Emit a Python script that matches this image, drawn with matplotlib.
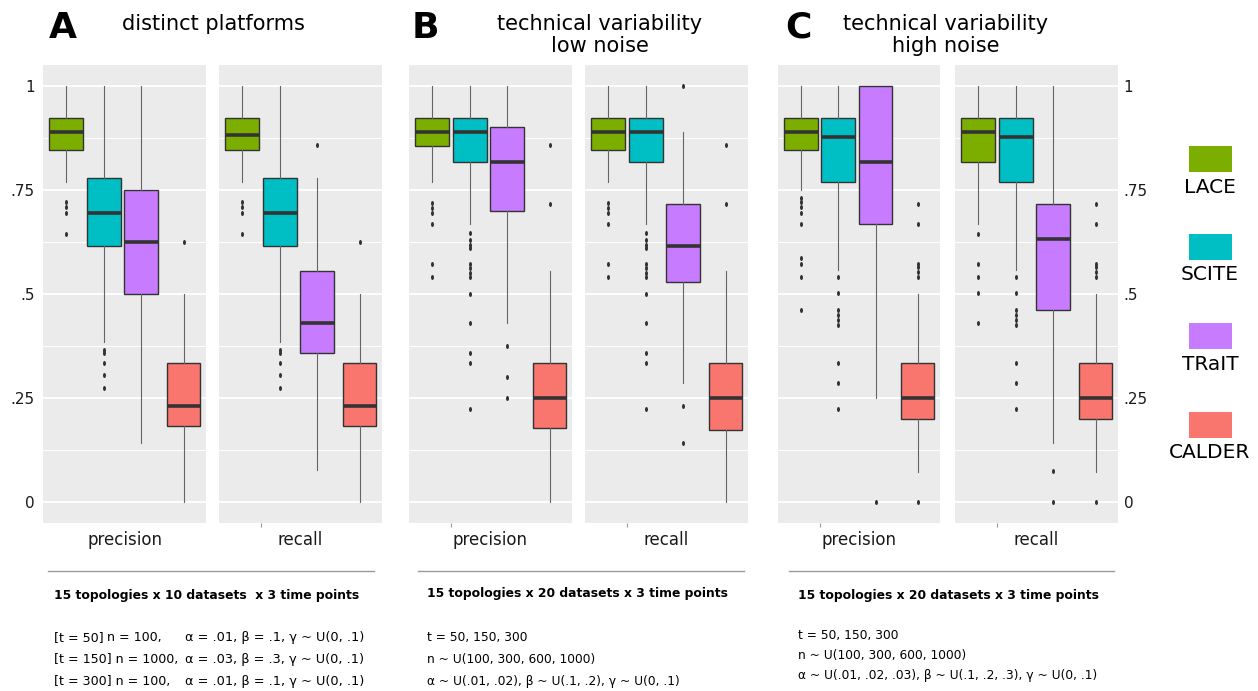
import matplotlib.pyplot as plt
from matplotlib.patches import Rectangle
from matplotlib.lines import Line2D
from matplotlib.path import Path
from matplotlib.transforms import Affine2D

plt.rcParams['font.family'] = ['DejaVu Sans']

methods = ['LACE', 'SCITE', 'TRaIT', 'CALDER']
colors = ['#7CAE00', '#00BFC4', '#C77CFF', '#F8766D']

# box stats per method: [whisker low, q1, median, q3, whisker high]
a_prec = [[0.770, 0.846, 0.890, 0.924, 1.0],
          [0.385, 0.615, 0.694, 0.778, 1.0],
          [0.142, 0.500, 0.625, 0.750, 1.0],
          [0.0, 0.182, 0.230, 0.333, 0.5]]
a_prec_out = [[0.720, 0.710, 0.694, 0.643],
              [0.365, 0.358, 0.333, 0.306, 0.273],
              [],
              [0.625]]
a_rec = [[0.770, 0.846, 0.882, 0.924, 1.0],
         [0.385, 0.615, 0.694, 0.778, 1.0],
         [0.076, 0.357, 0.429, 0.556, 0.778],
         [0.0, 0.182, 0.230, 0.333, 0.5]]
a_rec_out = [[0.720, 0.710, 0.694, 0.643],
             [0.365, 0.358, 0.333, 0.306, 0.273],
             [0.858],
             [0.625]]

b_prec = [[0.770, 0.856, 0.890, 0.924, 1.0],
          [0.667, 0.818, 0.890, 0.924, 1.0],
          [0.429, 0.700, 0.818, 0.901, 1.0],
          [0.0, 0.178, 0.249, 0.333, 0.555]]
b_prec_out = [[0.718, 0.706, 0.694, 0.667, 0.572, 0.540],
              [0.646, 0.630, 0.618, 0.610, 0.572, 0.561, 0.549, 0.540, 0.500, 0.429, 0.357, 0.333, 0.222],
              [0.375, 0.299, 0.249],
              [0.858, 0.715]]
b_rec = [[0.770, 0.846, 0.890, 0.924, 1.0],
         [0.667, 0.818, 0.890, 0.924, 1.0],
         [0.286, 0.529, 0.615, 0.715, 0.889],
         [0.0, 0.173, 0.249, 0.333, 0.555]]
b_rec_out = [[0.718, 0.706, 0.694, 0.667, 0.572, 0.540],
             [0.646, 0.630, 0.618, 0.610, 0.572, 0.561, 0.549, 0.540, 0.500, 0.429, 0.357, 0.333, 0.222],
             [1.0, 0.230, 0.142],
             [0.858, 0.715]]

c_prec = [[0.751, 0.846, 0.890, 0.924, 1.0],
          [0.557, 0.770, 0.877, 0.924, 1.0],
          [0.250, 0.667, 0.818, 1.0, 1.0],
          [0.071, 0.199, 0.250, 0.333, 0.5]]
c_prec_out = [[0.730, 0.722, 0.710, 0.694, 0.667, 0.586, 0.573, 0.540, 0.461],
              [0.540, 0.501, 0.461, 0.449, 0.437, 0.425, 0.333, 0.285, 0.222],
              [0.0],
              [0.715, 0.667, 0.573, 0.565, 0.553, 0.540, 0.0]]
c_rec = [[0.667, 0.818, 0.889, 0.924, 1.0],
         [0.557, 0.770, 0.877, 0.924, 1.0],
         [0.142, 0.461, 0.631, 0.715, 1.0],
         [0.071, 0.199, 0.250, 0.333, 0.5]]
c_rec_out = [[0.643, 0.572, 0.540, 0.501, 0.429],
             [0.540, 0.501, 0.461, 0.449, 0.437, 0.425, 0.333, 0.285, 0.222],
             [0.075, 0.0],
             [0.715, 0.667, 0.573, 0.565, 0.553, 0.540, 0.0]]

panels = [(a_prec, a_prec_out, 'precision'), (a_rec, a_rec_out, 'recall'),
          (b_prec, b_prec_out, 'precision'), (b_rec, b_rec_out, 'recall'),
          (c_prec, c_prec_out, 'precision'), (c_rec, c_rec_out, 'recall')]

yticks = [0, 0.25, 0.5, 0.75, 1]
ytick_labels = ['0', '.25', '.5', '.75', '1']

letters = ['A', 'B', 'C']
titles = [['distinct platforms'],
          ['technical variability', 'low noise'],
          ['technical variability', 'high noise']]
headers = ['15 topologies x 10 datasets  x 3 time points',
           '15 topologies x 20 datasets x 3 time points',
           '15 topologies x 20 datasets x 3 time points']
a_notes = [['[t = 50]', 'n = 100,', 'α = .01, β = .1, γ ~ U(0, .1)'],
           ['[t = 150] n = 1000,', '', 'α = .03, β = .3, γ ~ U(0, .1)'],
           ['[t = 300] n = 100,', '', 'α = .01, β = .1, γ ~ U(0, .1)']]
b_notes = ['t = 50, 150, 300', 'n ~ U(100, 300, 600, 1000)',
           'α ~ U(.01, .02), β ~ U(.1, .2), γ ~ U(0, .1)']
c_notes = ['t = 50, 150, 300', 'n ~ U(100, 300, 600, 1000)',
           'α ~ U(.01, .02, .03), β ~ U(.1, .2, .3), γ ~ U(0, .1)']

W, H = 1258, 691
fig = plt.figure(figsize=(W / 100, H / 100), dpi=100)

# slightly tall outlier dots, like the original
dot = Path.unit_circle().transformed(Affine2D().scale(0.6, 1.0))

# panel left/right edges in pixels
edges = [(43, 206), (219, 382), (409, 572), (585, 748), (778, 940), (955, 1118)]
top_px, bot_px = 65, 523
positions = [0.143, 0.372, 0.603, 0.862]
small_tick = [None, 0.26, 0.26, 0.26, 0.26, 0.26]

for i, (stats, outs, lab) in enumerate(panels):
    x0, x1 = edges[i]
    ax = fig.add_axes([x0 / W, 1 - bot_px / H, (x1 - x0) / W, (bot_px - top_px) / H])
    ax.set_facecolor('#EBEBEB')
    bx = []
    for s, o in zip(stats, outs):
        bx.append(dict(whislo=s[0], q1=s[1], med=s[2], q3=s[3], whishi=s[4], fliers=o))
    res = ax.bxp(bx, positions=positions, widths=0.207, patch_artist=True, showcaps=False,
                 boxprops=dict(edgecolor='#333333', linewidth=1.0),
                 medianprops=dict(color='#333333', linewidth=2.6, solid_capstyle='butt'),
                 whiskerprops=dict(color='#666666', linewidth=0.8),
                 flierprops=dict(marker=dot, markersize=3.6, markerfacecolor='#333333',
                                 markeredgecolor='none', linestyle='none'))
    for patch, c in zip(res['boxes'], colors):
        patch.set_facecolor(c)
    ax.set_xlim(0, 1)
    ax.set_ylim(-0.0512, 1.0505)
    ax.set_yticks(yticks)
    ax.set_yticks([0.125, 0.375, 0.625, 0.875], minor=True)
    ax.grid(True, which='major', axis='y', color='white', linewidth=1.3)
    ax.grid(True, which='minor', axis='y', color='white', linewidth=0.7)
    ax.set_axisbelow(True)
    for sp in ax.spines.values():
        sp.set_visible(False)
    if small_tick[i] is not None:
        ax.set_xticks([small_tick[i]], [''])
    else:
        ax.set_xticks([])
    ax.set_xticks([0.5], [lab], minor=True)
    ax.tick_params(axis='x', which='major', length=3, color='#999999', width=0.8)
    ax.tick_params(axis='x', which='minor', length=0, labelsize=12, pad=6, labelcolor='#1a1a1a')
    ax.tick_params(axis='y', which='both', length=0)
    if i == 0:
        ax.set_yticklabels(ytick_labels)
        ax.tick_params(axis='y', labelsize=11, pad=6, labelcolor='#1a1a1a')
    elif i == 5:
        ax.yaxis.tick_right()
        ax.set_yticklabels(ytick_labels)
        ax.tick_params(axis='y', which='both', length=0, labelsize=11, pad=4, labelcolor='#1a1a1a')
    else:
        ax.set_yticklabels([])

# panel letters and titles
letter_x = [63, 425, 798]
title_x = [213, 600, 946]
for k in range(3):
    fig.text(letter_x[k] / W, 1 - 28 / H, letters[k], fontsize=26, fontweight='bold',
             ha='center', va='center')
    fig.text(title_x[k] / W, 1 - 24 / H, titles[k][0], fontsize=15, ha='center', va='center')
    if len(titles[k]) > 1:
        fig.text(title_x[k] / W, 1 - 46 / H, titles[k][1], fontsize=15, ha='center', va='center')

# legend
leg_rects = [146, 234, 323, 412]
for m, c, yr in zip(methods, colors, leg_rects):
    fig.add_artist(Rectangle((1189 / W, 1 - (yr + 26) / H), 43 / W, 26 / H,
                             transform=fig.transFigure, facecolor=c, edgecolor='none'))
    fig.text(1210 / W, 1 - (yr + 41) / H, m, fontsize=14.5, ha='center', va='center')

# bottom separators and notes
seps = [(48, 374), (418, 744), (789, 1114)]
for xa, xb in seps:
    fig.add_artist(Line2D([xa / W, xb / W], [1 - 571 / H, 1 - 571 / H],
                          transform=fig.transFigure, color='#999999', linewidth=1.0))

fig.text(54 / W, 1 - 595 / H, headers[0], fontsize=8.9, fontweight='bold', va='center')
fig.text(427 / W, 1 - 594 / H, headers[1], fontsize=8.9, fontweight='bold', va='center')
fig.text(798 / W, 1 - 596 / H, headers[2], fontsize=8.9, fontweight='bold', va='center')

a_y = [638, 660, 682]
for row, yy in zip(a_notes, a_y):
    fig.text(54 / W, 1 - yy / H, row[0], fontsize=9.1, va='center')
    if row[1]:
        fig.text(107 / W, 1 - yy / H, row[1], fontsize=9.1, va='center')
    fig.text(185 / W, 1 - yy / H, row[2], fontsize=9.3, va='center')

for line, yy in zip(b_notes, [638, 660, 682]):
    fig.text(427 / W, 1 - yy / H, line, fontsize=8.8, va='center')
for line, yy in zip(c_notes, [636, 656, 676]):
    fig.text(798 / W, 1 - yy / H, line, fontsize=8.8, va='center')

plt.savefig('out.png', dpi=100)
